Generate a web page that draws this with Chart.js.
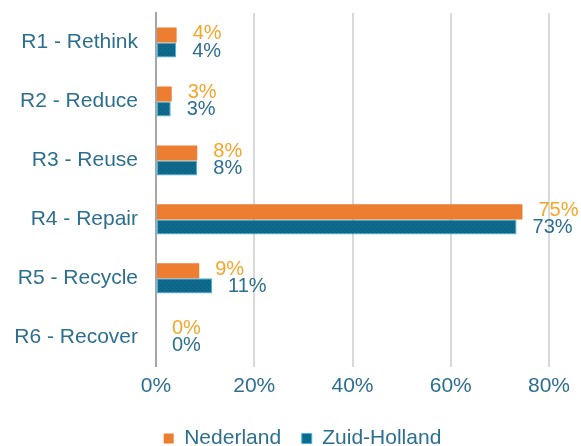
<!DOCTYPE html>
<html>
<head>
<meta charset="utf-8">
<script src="https://cdn.jsdelivr.net/npm/chart.js@4/dist/chart.umd.min.js"></script>
<style>
  html, body { margin: 0; padding: 0; background: #fff; }
  #wrap { width: 581px; height: 446px; }
</style>
</head>
<body>
<div id="wrap"><canvas id="myChart" width="581" height="446"></canvas></div>
<script>
const categories = ["R1 - Rethink", "R2 - Reduce", "R3 - Reuse", "R4 - Repair", "R5 - Recycle", "R6 - Recover"];
const nederland = [4.2, 3.2, 8.4, 74.6, 8.8, 0];
const zuidHolland = [4.1, 3.0, 8.4, 73.4, 11.4, 0];
const xTicks = [0, 20, 40, 60, 80];

const textBlue = "#2d6f90";
const orange = "#ed7d31";
const labelOrange = "#f5a52a";
const font = "'Liberation Sans', Arial, sans-serif";

// dotted teal fill like the original
function tealPattern() {
  const c = document.createElement("canvas");
  c.width = 4;
  c.height = 4;
  const p = c.getContext("2d");
  p.fillStyle = "#0f6b8e";
  p.fillRect(0, 0, 4, 4);
  p.fillStyle = "#0a5878";
  p.fillRect(0, 0, 1, 1);
  p.fillRect(2, 2, 1, 1);
  return p.createPattern(c, "repeat");
}

const valueLabels = {
  id: "valueLabels",
  afterLayout(chart) {
    // legend sits a bit right of centre and low in the original
    const lg = chart.legend;
    lg.left += 28;
    lg.right += 28;
    lg.top += 13;
    lg.bottom += 13;
  },
  afterDatasetsDraw(chart) {
    const ctx = chart.ctx;
    ctx.save();
    ctx.font = "20px " + font;
    ctx.textAlign = "left";
    ctx.textBaseline = "middle";
    chart.data.datasets.forEach((ds, i) => {
      const meta = chart.getDatasetMeta(i);
      ctx.fillStyle = i === 0 ? labelOrange : textBlue;
      meta.data.forEach((bar, j) => {
        const txt = Math.round(ds.data[j]) + "%";
        ctx.fillText(txt, bar.x + 16, bar.y + (i === 0 ? -1 : 1));
      });
    });
    ctx.restore();
  },
};

const config = {
  type: "bar",
  data: {
    labels: categories,
    datasets: [
      {
        label: "Nederland",
        data: nederland,
        backgroundColor: orange,
        borderWidth: 0,
        categoryPercentage: 0.51,
        barPercentage: 1,
      },
      {
        label: "Zuid-Holland",
        data: zuidHolland,
        backgroundColor: tealPattern(),
        borderColor: "#45b4dc",
        borderWidth: 1,
        borderSkipped: false,
        categoryPercentage: 0.51,
        barPercentage: 1,
      },
    ],
  },
  options: {
    indexAxis: "y",
    responsive: false,
    animation: false,
    layout: { padding: { top: 13, left: 0, right: 32, bottom: 0 } },
    plugins: {
      tooltip: { enabled: false },
      legend: {
        position: "bottom",
        labels: {
          color: textBlue,
          font: { size: 21, family: font },
          boxWidth: 10,
          boxHeight: 10,
          padding: 9,
          generateLabels: (chart) =>
            chart.data.datasets.map((ds, i) => ({
              text: i === 0 ? ds.label + "  " : ds.label,
              fillStyle: i === 0 ? orange : "#0f6b8e",
              strokeStyle: i === 0 ? orange : "#45b4dc",
              lineWidth: i === 0 ? 0 : 1,
              fontColor: textBlue,
              datasetIndex: i,
            })),
        },
      },
    },
    scales: {
      x: {
        min: 0,
        max: 80,
        afterBuildTicks: (scale) => {
          scale.ticks = xTicks.map((v) => ({ value: v }));
        },
        ticks: {
          color: textBlue,
          font: { size: 21, family: font },
          padding: 7,
          callback: (v) => v + "%",
        },
        grid: {
          color: (c) => (c.tick && c.tick.value === 0 ? "rgba(0,0,0,0)" : "#d9d9d9"),
          lineWidth: 2,
          drawTicks: false,
        },
        border: { display: false },
      },
      y: {
        afterFit: (scale) => {
          scale.width = 156;
          scale.paddingTop = 0;
          scale.paddingBottom = 0;
        },
        ticks: {
          color: textBlue,
          font: { size: 21, family: font },
          padding: 18,
        },
        grid: { display: false, drawTicks: false },
        border: { display: true, color: "#a6a6a6", width: 2 },
      },
    },
  },
  plugins: [valueLabels],
};

const myChart = new Chart(document.getElementById("myChart"), config);
</script>
</body>
</html>
